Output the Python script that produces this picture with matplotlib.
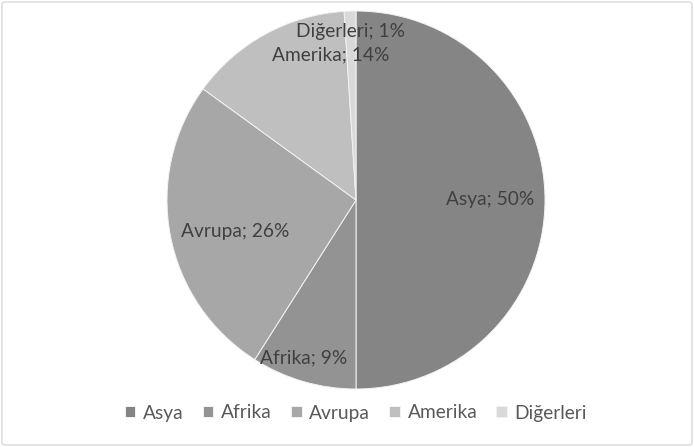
import numpy as np
import matplotlib
matplotlib.use("Agg")
from matplotlib import pyplot as plt
from matplotlib.patches import FancyBboxPatch

# kıtalara göre dağılım (%)
kitalar = ["Asya", "Afrika", "Avrupa", "Amerika", "Diğerleri"]
oranlar = [50, 9, 26, 14, 1]
renkler = ["#858585", "#939393", "#a7a7a7", "#bfbfbf", "#d9d9d9"]

plt.rcParams["font.family"] = ["Lato", "DejaVu Sans"]

fig = plt.figure(figsize=(6.94, 4.47), dpi=100)
W, H = 694, 447
cx, cy, r = 356, 200, 189
ax = fig.add_axes([(cx - r) / W, (H - cy - r) / H, 2 * r / W, 2 * r / H])

wedges, _ = ax.pie(oranlar, colors=renkler, startangle=90, counterclock=False,
                   radius=1, wedgeprops=dict(edgecolor="#f2f2f2", linewidth=0.7))
ax.set_xlim(-1, 1)
ax.set_ylim(-1, 1)
ax.set_aspect("equal")
ax.axis("off")

# etiketler: dilim ortasından uzaklık ve açı düzeltmesi
mesafe = [0.71, 0.88, 0.66, 0.78, 0.89]
aci_kayma = [0, -2, 4, -19, 0]
for w, ad, oran, d, k in zip(wedges, kitalar, oranlar, mesafe, aci_kayma):
    aci = np.deg2rad((w.theta1 + w.theta2) / 2 + k)
    ax.text(d * np.cos(aci), d * np.sin(aci), f"{ad}; {oran}%",
            ha="center", va="center", fontsize=13.8, color="#404040")

fig.legend(wedges, kitalar, loc="center", bbox_to_anchor=(0.513, 1 - 413 / H),
           ncol=5, frameon=False, fontsize=13.8, handlelength=0.55,
           handleheight=0.55, handletextpad=0.4, columnspacing=1.0,
           labelcolor="#595959")

cerceve = FancyBboxPatch((2 / W, 2 / H), 1 - 4 / W, 1 - 4 / H,
                         boxstyle="round,pad=0,rounding_size=0.005",
                         transform=fig.transFigure, facecolor="none",
                         edgecolor="#d9d9d9", linewidth=1)
fig.patches.append(cerceve)

fig.savefig("out.png", dpi=100)
